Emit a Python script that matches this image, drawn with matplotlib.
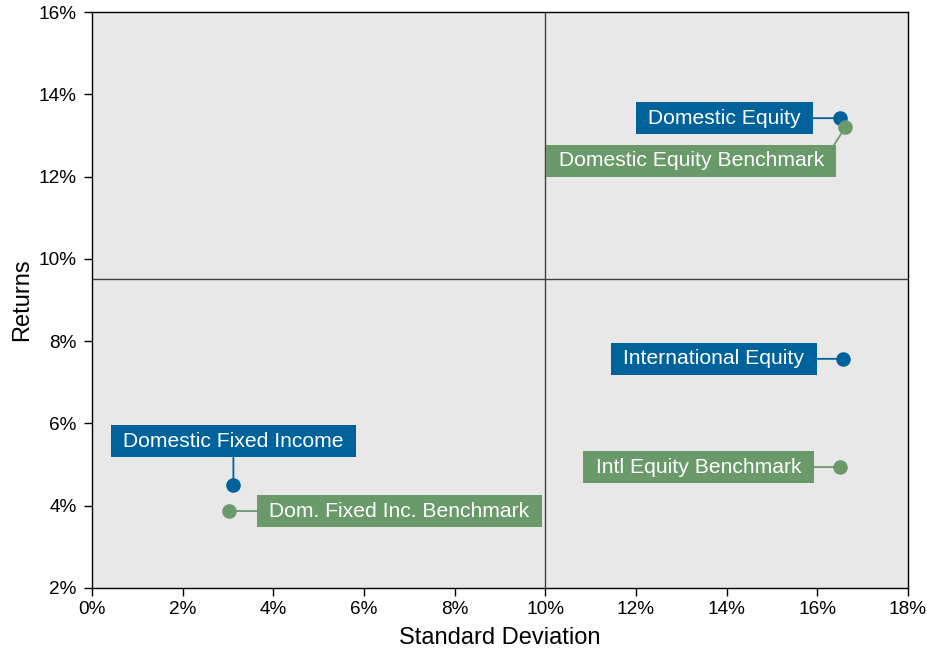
import matplotlib.pyplot as plt
from matplotlib.ticker import FuncFormatter

plt.rcParams['font.family'] = ['Liberation Sans', 'DejaVu Sans']

# risk / return per portfolio (percent)
names = ['Domestic Equity', 'Domestic Equity Benchmark', 'International Equity',
         'Intl Equity Benchmark', 'Domestic Fixed Income', 'Dom. Fixed Inc. Benchmark']
std_dev = [16.50, 16.62, 16.57, 16.50, 3.12, 3.02]
returns = [13.42, 13.20, 7.57, 4.94, 4.50, 3.87]
is_benchmark = [False, True, False, True, False, True]

# where each label box sits
label_x = [13.95, 13.22, 13.72, 13.38, 3.12, 6.78]
label_y = [13.42, 12.38, 7.57, 4.94, 5.57, 3.87]
label_corner = [(1, 0.5), (1, 1), (1, 0.5), (1, 0.5), (0.5, 0), (0, 0.5)]

mid_x = 10.0
mid_y = 9.5

blue = '#00629B'
green = '#6A9A69'

fig = plt.figure(figsize=(9.28, 6.5), dpi=100)
ax = fig.add_axes([0.0991, 0.0954, 0.8793, 0.8861])
ax.set_facecolor('#E8E8E8')

ax.axvline(mid_x, color='#404040', lw=1.0, zorder=1)
ax.axhline(mid_y, color='#404040', lw=1.0, zorder=1)

for i in range(len(names)):
    c = green if is_benchmark[i] else blue
    z = 4 if is_benchmark[i] else 3
    ax.scatter(std_dev[i], returns[i], s=110, color=c, zorder=z, linewidths=0)
    # spaces give the box some extra room left and right
    ax.annotate(' ' + names[i] + ' ', xy=(std_dev[i], returns[i]),
                xytext=(label_x[i], label_y[i]),
                ha='center', va='center', fontsize=15.2, color='white', zorder=z,
                bbox=dict(boxstyle='square,pad=0.3', fc=c, ec='none'),
                arrowprops=dict(arrowstyle='-', color=c, lw=1.3,
                                relpos=label_corner[i], shrinkA=0, shrinkB=0))

ax.set_xlim(0, 18)
ax.set_ylim(2, 16)
ax.set_xticks(range(0, 19, 2))
ax.set_yticks(range(2, 17, 2))
pct = FuncFormatter(lambda v, p: f'{v:.0f}%')
ax.xaxis.set_major_formatter(pct)
ax.yaxis.set_major_formatter(pct)
ax.tick_params(labelsize=13.7, direction='out', length=6, width=1, color='black')
ax.tick_params(axis='y', pad=5)
for s in ax.spines.values():
    s.set_color('black')
    s.set_linewidth(1)

ax.set_xlabel('Standard Deviation', fontsize=17, labelpad=6)
ax.set_ylabel('Returns', fontsize=17, labelpad=4)

fig.savefig('out.png', dpi=100)
